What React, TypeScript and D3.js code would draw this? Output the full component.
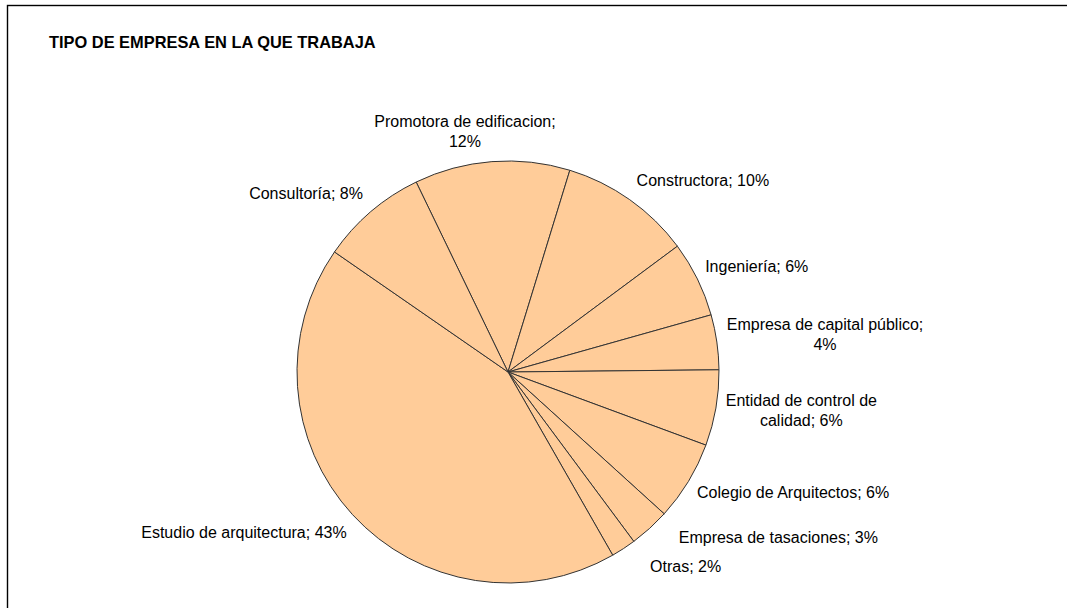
import { useEffect, useRef } from "react";
import * as d3 from "d3";

// Data (percent of respondents)
const categories = [
  "Promotora de edificacion",
  "Constructora",
  "Ingeniería",
  "Empresa de capital público",
  "Entidad de control de calidad",
  "Colegio de Arquitectos",
  "Empresa de tasaciones",
  "Otras",
  "Estudio de arquitectura",
  "Consultoría",
];
const values = [11.9, 10.1, 5.8, 4.2, 5.8, 6.1, 3.1, 1.9, 42.9, 8.2];

const title = "TIPO DE EMPRESA EN LA QUE TRABAJA";

// small label nudges (layout only), same order as categories
const labelNudge = [
  { dx: -26, dy: 2 },
  { dx: 0, dy: -1 },
  { dx: -3, dy: -2.5 },
  { dx: -2, dy: -2.5 },
  { dx: -2, dy: -3 },
  { dx: -2, dy: 0.5 },
  { dx: 21, dy: -6.5 },
  { dx: 20, dy: -0.5 },
  { dx: 3, dy: 3 },
  { dx: 0, dy: -0.5 },
];

const FONT = "Arial, 'Liberation Sans', sans-serif";

export default function App() {
  const svgRef = useRef<SVGSVGElement | null>(null);

  useEffect(() => {
    if (!svgRef.current) return;

    const width = 1067;
    const height = 608;
    const cx = 508;
    const cy = 372;
    const radius = 211;
    const fontSize = 16;
    const lineH = 20;
    const wrapWidth = 208;

    const svg = d3.select(svgRef.current);
    svg.selectAll("*").remove();

    // chart frame (right and bottom edges fall outside the picture)
    svg
      .append("rect")
      .attr("x", 7.5)
      .attr("y", 5.5)
      .attr("width", width + 10)
      .attr("height", height + 10)
      .attr("fill", "#fff")
      .attr("stroke", "#000")
      .attr("stroke-width", 1.4);

    svg
      .append("text")
      .attr("x", 49)
      .attr("y", 48)
      .attr("font-family", FONT)
      .attr("font-size", 16.4)
      .attr("font-weight", "bold")
      .attr("fill", "#000")
      .text(title);

    const start = (-25.8 * Math.PI) / 180;
    const pie = d3
      .pie<number>()
      .sort(null)
      .value((d) => d)
      .startAngle(start)
      .endAngle(start + 2 * Math.PI);
    const arcs = pie(values);

    const arc = d3.arc<d3.PieArcDatum<number>>().innerRadius(0).outerRadius(radius);

    const g = svg.append("g").attr("transform", `translate(${cx},${cy})`);
    g.selectAll("path")
      .data(arcs)
      .join("path")
      .attr("d", arc)
      .attr("fill", "#FFCC99")
      .attr("stroke", "#333")
      .attr("stroke-width", 1)
      .attr("stroke-linejoin", "round");

    // text measuring for wrapping
    const ctx = document.createElement("canvas").getContext("2d")!;
    ctx.font = `${fontSize}px ${FONT}`;
    const measure = (s: string) => ctx.measureText(s).width;
    const wrap = (s: string) => {
      const words = s.split(" ");
      const lines: string[] = [];
      let cur = "";
      words.forEach((w) => {
        const test = cur ? cur + " " + w : w;
        if (cur && measure(test) > wrapWidth) {
          lines.push(cur);
          cur = w;
        } else cur = test;
      });
      if (cur) lines.push(cur);
      return lines;
    };

    const labelR = radius + 12;
    arcs.forEach((d, i) => {
      const mid = (d.startAngle + d.endAngle) / 2;
      const s = Math.sin(mid);
      const c = Math.cos(mid);
      const ax = cx + labelR * s;
      const ay = cy - labelR * c;
      const text = `${categories[i]}; ${Math.round(d.data)}%`;
      const lines = wrap(text);
      const w = d3.max(lines, measure) || 0;
      const h = lines.length * lineH;
      let left: number;
      if (Math.abs(s) < 0.2) left = ax - w / 2;
      else if (s > 0) left = ax;
      else left = ax - w;
      const top = ay - (h * (1 + c)) / 2;
      const nx = left + w / 2 + labelNudge[i].dx;
      const ny = top + labelNudge[i].dy;

      const t = svg
        .append("text")
        .attr("font-family", FONT)
        .attr("font-size", fontSize)
        .attr("fill", "#000")
        .attr("text-anchor", "middle");
      lines.forEach((ln, k) => {
        t.append("tspan")
          .attr("x", nx)
          .attr("y", ny + 15 + k * lineH)
          .text(ln);
      });
    });
  }, []);

  return (
    <svg
      ref={svgRef}
      width={1067}
      height={608}
      style={{ position: "absolute", left: 0, top: 0, display: "block" }}
    />
  );
}
